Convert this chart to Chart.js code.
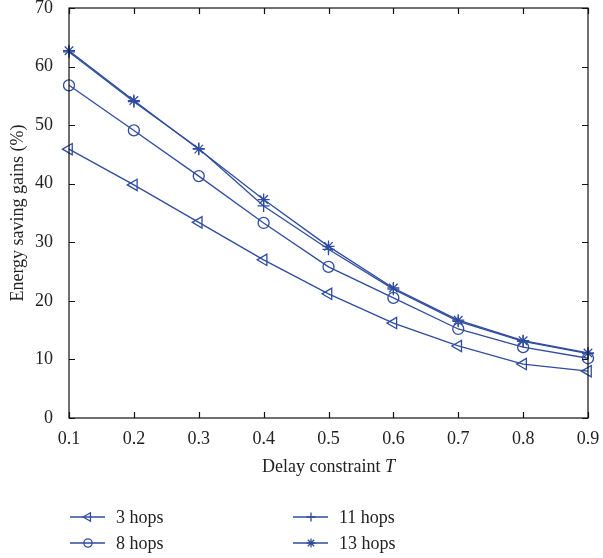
<!DOCTYPE html>
<html>
<head>
<meta charset="utf-8">
<style>
  body { margin: 0; background: #fff; }
  #chart { display: block; }
</style>
</head>
<body>
<canvas id="chart" width="603" height="558"></canvas>

<script src="https://cdn.jsdelivr.net/npm/chart.js@4/dist/chart.umd.min.js"></script>
<script>
  // values
  const delays = [0.1, 0.2, 0.3, 0.4, 0.5, 0.6, 0.7, 0.8, 0.9]
  const hops3 = [45.9, 39.8, 33.4, 27.0, 21.2, 16.2, 12.3, 9.2, 8.0]
  const hops8 = [56.8, 49.1, 41.3, 33.3, 25.8, 20.5, 15.2, 12.1, 10.2]
  const hops11 = [62.5, 54.0, 46.0, 36.2, 28.8, 22.0, 16.5, 13.1, 11.0]
  const hops13 = [62.7, 54.2, 45.9, 37.3, 29.3, 22.2, 16.7, 13.2, 11.1]
  const yTicks = [0, 10, 20, 30, 40, 50, 60, 70]

  const blue = '#2f4c9f'
  const serif = '"Liberation Serif", "DejaVu Serif", serif'

  function toPoints(ys) {
    return delays.map((x, i) => ({ x: x, y: ys[i] }))
  }

  function series(label, ys, style, rot, radius) {
    return {
      label: label,
      data: toPoints(ys),
      borderColor: blue,
      backgroundColor: 'rgba(0,0,0,0)',
      borderWidth: 1.3,
      pointStyle: style,
      rotation: rot,
      pointRadius: radius,
      pointBorderColor: blue,
      pointBorderWidth: 1.3,
      pointBackgroundColor: 'rgba(0,0,0,0)',
      clip: false,
      tension: 0
    }
  }

  const datasets = [
    series('3 hops', hops3, 'triangle', -90, 6.5),
    series('8 hops', hops8, 'circle', 0, 5.5),
    series('11 hops', hops11, 'cross', 0, 6),
    series('13 hops', hops13, 'star', 0, 6)
  ]

  // box, inward ticks, titles and legend in matlab style
  const frame = {
    id: 'frame',
    afterDraw(chart) {
      const ctx = chart.ctx
      const a = chart.chartArea
      const xs = chart.scales.x
      const ys = chart.scales.y
      const t = 6
      ctx.save()
      ctx.strokeStyle = '#111'
      ctx.lineWidth = 1.2
      ctx.strokeRect(a.left, a.top, a.right - a.left, a.bottom - a.top)
      ctx.beginPath()
      delays.forEach(v => {
        const px = Math.round(xs.getPixelForValue(v)) + 0.5
        ctx.moveTo(px, a.bottom); ctx.lineTo(px, a.bottom - t)
        ctx.moveTo(px, a.top); ctx.lineTo(px, a.top + t)
      })
      yTicks.forEach(v => {
        const py = Math.round(ys.getPixelForValue(v)) + 0.5
        ctx.moveTo(a.left, py); ctx.lineTo(a.left + t, py)
        ctx.moveTo(a.right, py); ctx.lineTo(a.right - t, py)
      })
      ctx.stroke()

      // x title with italic T
      ctx.fillStyle = '#222'
      ctx.textBaseline = 'middle'
      const cx = (a.left + a.right) / 2
      const part1 = 'Delay constraint '
      ctx.font = 'italic 18px ' + serif
      const wT = ctx.measureText('T').width
      ctx.font = '18px ' + serif
      const w1 = ctx.measureText(part1).width
      const startX = cx - (w1 + wT) / 2
      ctx.textAlign = 'left'
      ctx.fillText(part1, startX, 467)
      ctx.font = 'italic 18px ' + serif
      ctx.fillText('T', startX + w1, 467)

      // y title
      ctx.save()
      ctx.translate(18, (a.top + a.bottom) / 2)
      ctx.rotate(-Math.PI / 2)
      ctx.textAlign = 'center'
      ctx.font = '18px ' + serif
      ctx.fillText('Energy saving gains (%)', 0, 0)
      ctx.restore()

      // legend, two columns
      const slots = [[70, 517], [70, 543], [293, 517], [293, 543]]
      chart.data.datasets.forEach((ds, i) => {
        const [lx, ly] = slots[i]
        ctx.strokeStyle = blue
        ctx.fillStyle = 'rgba(0,0,0,0)'
        ctx.lineWidth = 1.3
        ctx.beginPath()
        ctx.moveTo(lx, ly); ctx.lineTo(lx + 35, ly)
        ctx.stroke()
        Chart.helpers.drawPoint(ctx, {
          pointStyle: ds.pointStyle,
          rotation: ds.rotation,
          radius: ds.pointRadius * 0.75,
          borderWidth: 1.3
        }, lx + 18, ly)
        ctx.fillStyle = '#222'
        ctx.textAlign = 'left'
        ctx.font = '18px ' + serif
        ctx.fillText(ds.label, lx + 46, ly + 1)
      })
      ctx.restore()
    }
  }

  const ctx = document.getElementById('chart').getContext('2d')
  new Chart(ctx, {
    type: 'line',
    data: { datasets: datasets },
    options: {
      responsive: false,
      animation: false,
      layout: { padding: { top: 8, right: 15, left: 0, bottom: 110 } },
      plugins: { legend: { display: false }, tooltip: { enabled: false } },
      scales: {
        x: {
          type: 'linear',
          min: 0.1,
          max: 0.9,
          afterBuildTicks: s => { s.ticks = delays.map(v => ({ value: v })) },
          ticks: {
            callback: v => v.toFixed(1),
            color: '#222',
            font: { family: serif, size: 18 },
            padding: 2,
            maxRotation: 0
          },
          grid: { display: false },
          border: { display: false },
          afterFit: s => { s.height = 30; s.paddingLeft = 0; s.paddingRight = 0 }
        },
        y: {
          min: 0,
          max: 70,
          afterBuildTicks: s => { s.ticks = yTicks.map(v => ({ value: v })) },
          ticks: {
            color: '#222',
            font: { family: serif, size: 18 },
            padding: 8
          },
          grid: { display: false },
          border: { display: false },
          afterFit: s => { s.width = 69; s.paddingTop = 0; s.paddingBottom = 0 }
        }
      }
    },
    plugins: [frame]
  })
</script>
</body>
</html>
